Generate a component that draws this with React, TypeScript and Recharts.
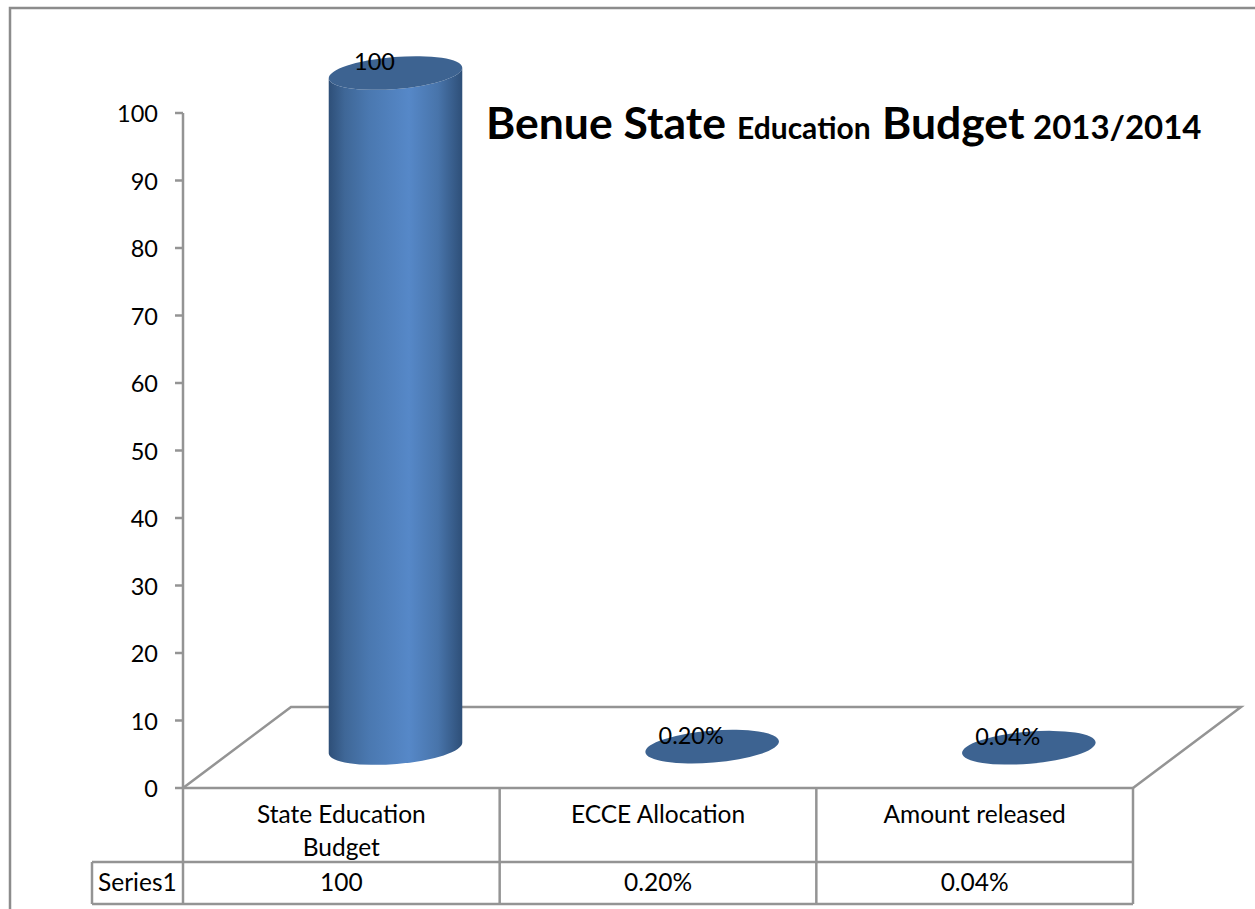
import { Bar, BarChart, LabelList, XAxis, YAxis } from "recharts";

const categories = [["State Education", "Budget"], ["ECCE Allocation"], ["Amount released"]];
const seriesName = "Series1";
const values = [100, 0.2, 0.04];
const valueLabels = ["100", "0.20%", "0.04%"];
const yTicks = [0, 10, 20, 30, 40, 50, 60, 70, 80, 90, 100];

const data = categories.map((lines, i) => ({
  nome: lines.join(" "),
  total: values[i],
  rotulo: valueLabels[i],
}));

const font = "Lato, 'Open Sans', sans-serif";
const lineColor = "#949494";

const W = 1255;
const H = 909;
const left = 183;
const right = 1133;
const top = 113;
const base = 788;
const colWidth = (right - left) / categories.length;

// the floor is drawn in perspective, bars stand halfway back on it
const floorX = 108;
const floorY = 81;
const barShiftX = 54;
const barShiftY = -40;

const rx = 67;
const ry = 16;
const tilt = -4.7;

function Cylinder({ x, y, width, height }: any) {
  const cx = x + width / 2 + barShiftX;
  const topY = y + barShiftY;
  const bottomY = y + height + barShiftY;
  const dx = rx * Math.cos((tilt * Math.PI) / 180);
  const dy = rx * Math.sin((tilt * Math.PI) / 180);
  const side = [
    `M ${cx - dx} ${topY - dy}`,
    `L ${cx - dx} ${bottomY - dy}`,
    `A ${rx} ${ry} ${tilt} 0 0 ${cx + dx} ${bottomY + dy}`,
    `L ${cx + dx} ${topY + dy}`,
    `A ${rx} ${ry} ${tilt} 0 1 ${cx - dx} ${topY - dy}`,
    "Z",
  ].join(" ");
  return (
    <g>
      {/* very short bars are only their cap */}
      {height > ry && <path d={side} fill="url(#corpo)" />}
      <ellipse
        cx={cx}
        cy={topY}
        rx={rx}
        ry={ry}
        fill="#3d6391"
        transform={`rotate(${tilt} ${cx} ${topY})`}
      />
    </g>
  );
}

function ValueLabel({ x, y, width, value }: any) {
  return (
    <text
      x={x + width / 2 + 33}
      y={y - 43}
      textAnchor="middle"
      fontFamily={font}
      fontSize={23.5}
      fill="#000"
    >
      {value}
    </text>
  );
}

function CategoryTick({ x, payload, index }: any) {
  const lines = categories[index] ?? [payload.value];
  return (
    <g fontFamily={font} fontSize={24.5} fill="#000" textAnchor="middle">
      {lines.map((line, i) => (
        <text key={line} x={x} y={823 + i * 33} fill="#000">
          {line}
        </text>
      ))}
      <text x={x} y={891} fill="#000">
        {valueLabels[index]}
      </text>
    </g>
  );
}

function Frame() {
  return (
    <path
      d={`M 10 ${H} L 10 8 L ${W} 8`}
      stroke="#8c8c8c"
      strokeWidth={2.5}
      fill="none"
    />
  );
}

function Floor() {
  return (
    <path
      d={`M ${left} ${base} L ${left + floorX} ${base - floorY} L ${right + floorX} ${base - floorY} L ${right} ${base}`}
      fill="none"
      stroke={lineColor}
      strokeWidth={2.5}
    />
  );
}

function DataTable() {
  const rowA = 862;
  const rowB = 904;
  const cols = [0, 1, 2, 3].map((i) => left + i * colWidth);
  return (
    <g stroke={lineColor} strokeWidth={2.5} fill="none">
      <line x1={left} x2={right} y1={base} y2={base} />
      {cols.map((c) => (
        <line key={c} x1={c} x2={c} y1={base} y2={rowB} />
      ))}
      <line x1={92} x2={right} y1={rowA} y2={rowA} />
      <line x1={92} x2={right} y1={rowB} y2={rowB} />
      <line x1={92} x2={92} y1={rowA} y2={rowB} />
      <text
        x={98}
        y={891}
        fontFamily={font}
        fontSize={24.5}
        fill="#000"
        stroke="none"
      >
        {seriesName}
      </text>
    </g>
  );
}

function Title() {
  return (
    <text y={138.5} fontFamily={font} fontWeight={700} fill="#000">
      <tspan x={486} fontSize={44.5}>Benue State</tspan>
      <tspan x={737} fontSize={30}>Education</tspan>
      <tspan x={882} fontSize={44.5}>Budget</tspan>
      <tspan x={1033} fontSize={33}>2013/2014</tspan>
    </text>
  );
}

export default function App() {
  return (
    <div style={{ position: "absolute", left: 0, top: 0, width: W, height: H }}>
      <BarChart
        width={W}
        height={H}
        data={data}
        margin={{ top, right: W - right, bottom: 0, left: 0 }}
        barSize={133}
      >
        <defs>
          <linearGradient id="corpo" x1="0" y1="0" x2="1" y2="0">
            <stop offset="0" stopColor="#2e4f78" />
            <stop offset="0.12" stopColor="#3f6797" />
            <stop offset="0.3" stopColor="#4a78b0" />
            <stop offset="0.6" stopColor="#5688c8" />
            <stop offset="0.82" stopColor="#4874aa" />
            <stop offset="1" stopColor="#2e4f78" />
          </linearGradient>
        </defs>
        <Frame />
        <Floor />
        <DataTable />
        <Title />
        <XAxis
          dataKey="nome"
          height={H - base}
          axisLine={false}
          tickLine={false}
          interval={0}
          tick={<CategoryTick />}
        />
        <YAxis
          width={left}
          domain={[0, 100]}
          ticks={yTicks}
          interval={0}
          tick={{ fontSize: 23.5, fontFamily: font, fill: "#000", dy: 1 }}
          tickSize={8}
          tickMargin={17}
          axisLine={{ stroke: lineColor, strokeWidth: 2.5 }}
          tickLine={{ stroke: lineColor, strokeWidth: 2.5 }}
        />
        <Bar dataKey="total" shape={<Cylinder />} isAnimationActive={false}>
          <LabelList dataKey="rotulo" content={<ValueLabel />} />
        </Bar>
      </BarChart>
    </div>
  );
}
